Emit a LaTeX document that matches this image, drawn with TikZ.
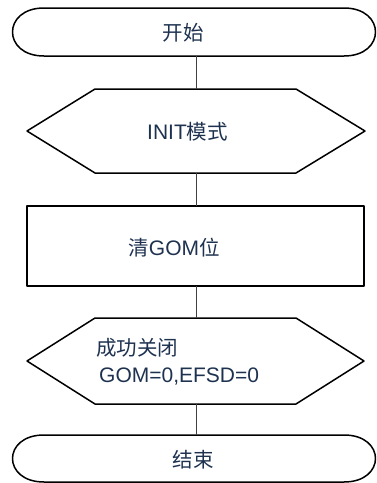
\documentclass[tikz,border=0pt]{standalone}
\usepackage{fontspec}
\setmainfont{Liberation Sans}
\newfontfamily\cjk{Noto Sans CJK SC}
\usetikzlibrary{calc}
\definecolor{txt}{RGB}{30,50,80}
\definecolor{conn}{RGB}{64,64,64}
\begin{document}
\begin{tikzpicture}[x=1pt,y=-1pt,
  box/.style={inner sep=0pt,outer sep=0pt,minimum width=#1},
  border/.style={draw=black,line width=1.5pt,line join=round},
  conline/.style={draw=conn,line width=1pt},
  lbl/.style={text=txt,inner sep=0pt,font=\fontsize{21}{27}\selectfont}]
\useasboundingbox (0,0) rectangle (376,483);
% invisible nodes giving the extents of each shape
\node[box=364pt,minimum height=48pt] (start) at (194,32) {};
\node[box=338pt,minimum height=84pt] (init) at (196,131) {};
\node[box=337pt,minimum height=80pt] (clear) at (195.5,246) {};
\node[box=337pt,minimum height=86pt] (check) at (195.5,361) {};
\node[box=364pt,minimum height=47pt] (stop) at (194,458.5) {};
% shapes
\draw[border] (44,8) -- (344,8) .. controls (386,8) and (386,56) .. (344,56) -- (44,56) .. controls (2,56) and (2,8) .. cycle;
\draw[border] (95,89) -- (296,89) -- (init.east) -- (296,173) -- (95,173) -- (init.west) -- cycle;
\draw[border] (clear.north west) rectangle (clear.south east);
\draw[border] (95,318) -- (296,318) -- (check.east) -- (296,404) -- (95,404) -- (check.west) -- cycle;
\draw[border] (44,435) -- (344,435) .. controls (386,435) and (386,482) .. (344,482) -- (44,482) .. controls (2,482) and (2,435) .. cycle;
% texts
\node[lbl] (tstart) at (183,33) {{\cjk\fontsize{20.5}{27}\selectfont 开始}};
\node[lbl] (tinit) at (187.5,132) {INIT{\cjk\fontsize{20.5}{27}\selectfont 模式}};
\node[lbl] (tclear) at (174,248) {{\cjk\fontsize{20.5}{27}\selectfont 清}GOM{\cjk\fontsize{20.5}{27}\selectfont 位}};
\node[lbl,align=left,anchor=west] (tcheck) at (96,362) {{\cjk\fontsize{20.5}{27}\selectfont 成功关闭}\\\hspace*{3pt}GOM=0,EFSD=0};
\node[lbl] (tstop) at (193,460) {{\cjk\fontsize{20.5}{27}\selectfont 结束}};
% connectors
\draw[conline] (init.north) -- (init.north |- start.south);
\draw[conline] (init.south) -- (init.south |- clear.north);
\draw[conline] (init.south |- clear.south) -- (init.south |- check.north);
\draw[conline] (init.south |- check.south) -- (init.south |- stop.north);
\end{tikzpicture}
\end{document}
